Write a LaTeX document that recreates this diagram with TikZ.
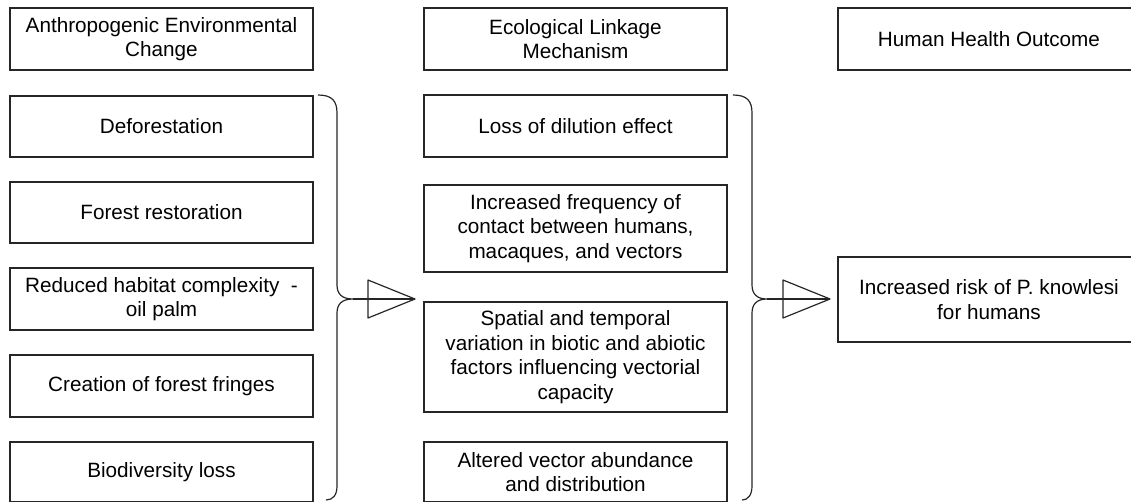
\documentclass[tikz,border=0pt]{standalone}
\usepackage{fontspec}
\setmainfont{Liberation Sans}
\begin{document}
\begin{tikzpicture}[x=1pt,y=-1pt,
  box/.style={draw=black!85, line width=1.2pt, inner sep=0pt, outer sep=0pt, align=center,
    font=\fontsize{20.7}{24.5}\selectfont},
  link/.style={draw=black!85, line width=1.2pt, line join=round}]
\useasboundingbox (0,0) rectangle (1131,501);
\clip (0,0) rectangle (1131,501);
% headers
\node[box, minimum width=303, minimum height=62] (h1) at (161.5,39) {Anthropogenic Environmental\\Change};
\node[box, minimum width=303, minimum height=62] (h2) at (575.5,39) {Ecological Linkage\\Mechanism};
\node[box, minimum width=302, minimum height=62] (h3) at (989,39) {Human Health Outcome};
% left column
\node[box, minimum width=303, minimum height=61] (L1) at (161.5,126.5) {Deforestation};
\node[box, minimum width=303, minimum height=61] (L2) at (161.5,212.5) {Forest restoration};
\node[box, minimum width=303, minimum height=62] (L3) at (161.5,299) {Reduced habitat complexity \ -\\oil palm};
\node[box, minimum width=303, minimum height=62] (L4) at (161.5,386) {Creation of forest fringes};
\node[box, minimum width=303, minimum height=60] (L5) at (161.5,472) {Biodiversity loss};
% middle column
\node[box, minimum width=303, minimum height=62] (M1) at (575.5,126) {Loss of dilution effect};
\node[box, minimum width=303, minimum height=87] (M2) at (575.5,228.5) {Increased frequency of\\contact between humans,\\macaques, and vectors};
\node[box, minimum width=303, minimum height=110] (M3) at (575.5,357) {Spatial and temporal\\variation in biotic and abiotic\\factors influencing vectorial\\capacity};
\node[box, minimum width=303, minimum height=60] (M4) at (575.5,472) {Altered vector abundance\\and distribution};
% right column
\node[box, minimum width=302, minimum height=85] (R1) at (989,299.5) {Increased risk of P. knowlesi\\for humans};
% brace 1
\coordinate (b1top) at (318,95);
\coordinate (b1tip) at (353,299);
\coordinate (b1bot) at (326,500);
\coordinate (t1a) at (368,280);
\coordinate (t1b) at (368,318);
\coordinate (t1apex) at (415,299);
\draw[link] (b1top) .. controls (332,95) and (337,101) .. (337,113) -- (337,285)
  .. controls (337,294) and (342,299) .. (b1tip)
  .. controls (342,299) and (337,304) .. (337,313) -- (337,486)
  .. controls (337,495) and (333,500) .. (b1bot);
\draw[link] (b1tip) -- (t1apex);
\draw[link] (t1a) -- (t1b) -- (t1apex) -- cycle;
% brace 2
\coordinate (b2top) at (733,95);
\coordinate (b2tip) at (767,299);
\coordinate (b2bot) at (742,500);
\coordinate (t2a) at (783,280);
\coordinate (t2b) at (783,318);
\coordinate (t2apex) at (830,299);
\draw[link] (b2top) .. controls (747,95) and (752,101) .. (752,113) -- (752,285)
  .. controls (752,294) and (757,299) .. (b2tip)
  .. controls (757,299) and (752,304) .. (752,313) -- (752,486)
  .. controls (752,495) and (748,500) .. (b2bot);
\draw[link] (b2tip) -- (t2apex);
\draw[link] (t2a) -- (t2b) -- (t2apex) -- cycle;
\end{tikzpicture}
\end{document}
